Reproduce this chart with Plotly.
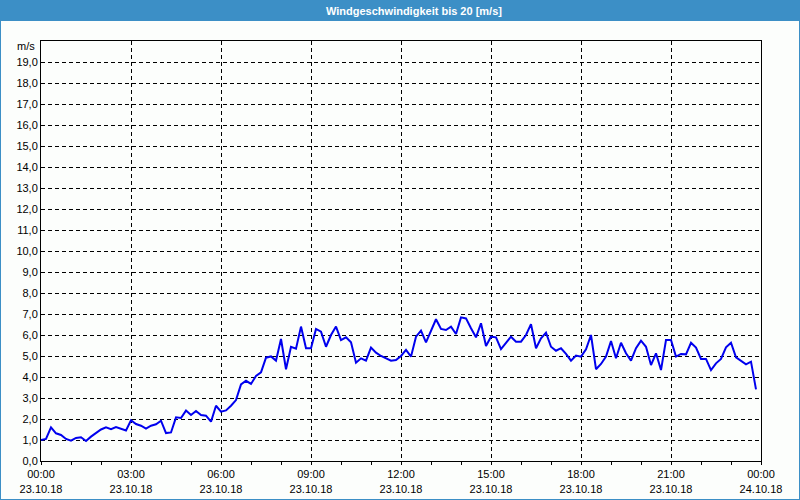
import pandas as pd
import plotly.graph_objects as go

# ---- data (wind speed in m/s, 10-minute samples, 23.10.18 00:00 .. 23:50) ----
wind_speed = [
    1.00, 1.05, 1.60, 1.32, 1.24, 1.05, 0.97, 1.10, 1.13, 0.95,
    1.16, 1.35, 1.50, 1.60, 1.52, 1.62, 1.52, 1.45, 1.94, 1.76,
    1.68, 1.54, 1.68, 1.75, 1.92, 1.33, 1.36, 2.08, 2.05, 2.40,
    2.19, 2.38, 2.19, 2.16, 1.87, 2.63, 2.35, 2.41, 2.63, 2.90,
    3.65, 3.82, 3.67, 4.05, 4.22, 4.92, 4.98, 4.78, 5.81, 4.37,
    5.44, 5.35, 6.40, 5.37, 5.37, 6.29, 6.16, 5.44, 6.00, 6.40,
    5.76, 5.89, 5.65, 4.68, 4.89, 4.78, 5.40, 5.16, 5.00, 4.89,
    4.78, 4.81, 5.00, 5.29, 4.97, 5.92, 6.21, 5.65, 6.24, 6.75,
    6.29, 6.24, 6.40, 6.05, 6.84, 6.79, 6.32, 5.89, 6.56, 5.48,
    5.92, 5.89, 5.33, 5.60, 5.92, 5.68, 5.68, 6.00, 6.52, 5.37,
    5.84, 6.11, 5.44, 5.25, 5.37, 5.10, 4.78, 5.02, 4.97, 5.32,
    6.00, 4.37, 4.62, 4.97, 5.71, 4.89, 5.63, 5.13, 4.78, 5.37,
    5.73, 5.44, 4.57, 5.13, 4.33, 5.76, 5.76, 4.97, 5.10, 5.08,
    5.63, 5.40, 4.86, 4.86, 4.33, 4.65, 4.86, 5.41, 5.63, 4.94,
    4.78, 4.60, 4.73, 3.41,
]
timestamps = pd.date_range("2018-10-23 00:00", periods=len(wind_speed), freq="10min")

x_tick_positions = ["2018-10-23 00:00", "2018-10-23 03:00", "2018-10-23 06:00",
                    "2018-10-23 09:00", "2018-10-23 12:00", "2018-10-23 15:00",
                    "2018-10-23 18:00", "2018-10-23 21:00", "2018-10-24 00:00"]
x_tick_times = ["00:00", "03:00", "06:00", "09:00", "12:00", "15:00", "18:00", "21:00", "00:00"]
x_tick_dates = ["23.10.18", "23.10.18", "23.10.18", "23.10.18", "23.10.18",
                "23.10.18", "23.10.18", "23.10.18", "24.10.18"]

y_tick_values = [0, 1, 2, 3, 4, 5, 6, 7, 8, 9, 10, 11, 12, 13, 14, 15, 16, 17, 18, 19]
y_tick_labels = ["0,0", "1,0", "2,0", "3,0", "4,0", "5,0", "6,0", "7,0", "8,0", "9,0",
                 "10,0", "11,0", "12,0", "13,0", "14,0", "15,0", "16,0", "17,0", "18,0", "19,0"]

title_text = "Windgeschwindigkeit bis 20 [m/s]"
unit_text = "m/s"

# ---- layout constants ----
W, H = 800, 500
L, R, T, B = 41, 39, 41, 39
PW, PH = W - L - R, H - T - B
BLUE = "#3c8fc6"
PANEL = "#fcfefc"
FONT = "Liberation Sans"


def px_x(px):
    return (px - L) / PW


def px_y(py):
    return (H - B - py) / PH


fig = go.Figure()
fig.add_trace(go.Scatter(
    x=timestamps, y=wind_speed, mode="lines",
    line=dict(color="#0000ee", width=2),
    showlegend=False, hoverinfo="x+y",
))

fig.update_layout(
    width=W, height=H, autosize=False,
    margin=dict(l=L, r=R, t=T, b=B, pad=0),
    paper_bgcolor=BLUE, plot_bgcolor=PANEL,
    font=dict(family=FONT, size=11, color="black"),
    shapes=[dict(type="rect", xref="paper", yref="paper",
                 x0=px_x(1), x1=px_x(799), y0=px_y(499), y1=px_y(21),
                 fillcolor=PANEL, line=dict(width=0), layer="below")],
    annotations=[
        dict(text="<b>" + title_text + "</b>", xref="paper", yref="paper",
             x=px_x(414), y=px_y(11), xanchor="center", yanchor="middle",
             showarrow=False, font=dict(family=FONT, size=11, color="white")),
        dict(text=unit_text, xref="paper", yref="paper",
             x=px_x(37), y=px_y(46.5), xanchor="right", yanchor="middle",
             showarrow=False, font=dict(family=FONT, size=11, color="black")),
    ],
)

fig.update_xaxes(
    type="date", automargin=False,
    range=["2018-10-23 00:00", "2018-10-24 00:00"],
    tickmode="array",
    tickvals=x_tick_positions,
    ticktext=[t + "<br>" + d for t, d in zip(x_tick_times, x_tick_dates)],
    showgrid=True, gridcolor="black", gridwidth=1, griddash="4px,3px",
    showline=True, linecolor="black", linewidth=1, mirror=True,
    ticks="outside", ticklen=3, tickcolor="black", tickwidth=1,
    minor=dict(tick0="2018-10-23 00:00", dtick=3600000, ticks="outside",
               ticklen=3, tickcolor="black", tickwidth=1, showgrid=False),
    zeroline=False, fixedrange=True,
    tickfont=dict(family=FONT, size=11, color="black"),
)

fig.update_yaxes(
    range=[0, 20], automargin=False,
    tickmode="array", tickvals=y_tick_values, ticktext=y_tick_labels,
    showgrid=True, gridcolor="black", gridwidth=1, griddash="4px,3px",
    showline=True, linecolor="black", linewidth=1, mirror=True,
    ticks="", zeroline=False, fixedrange=True,
    tickfont=dict(family=FONT, size=11, color="black"),
)

fig.write_html("out.html")
